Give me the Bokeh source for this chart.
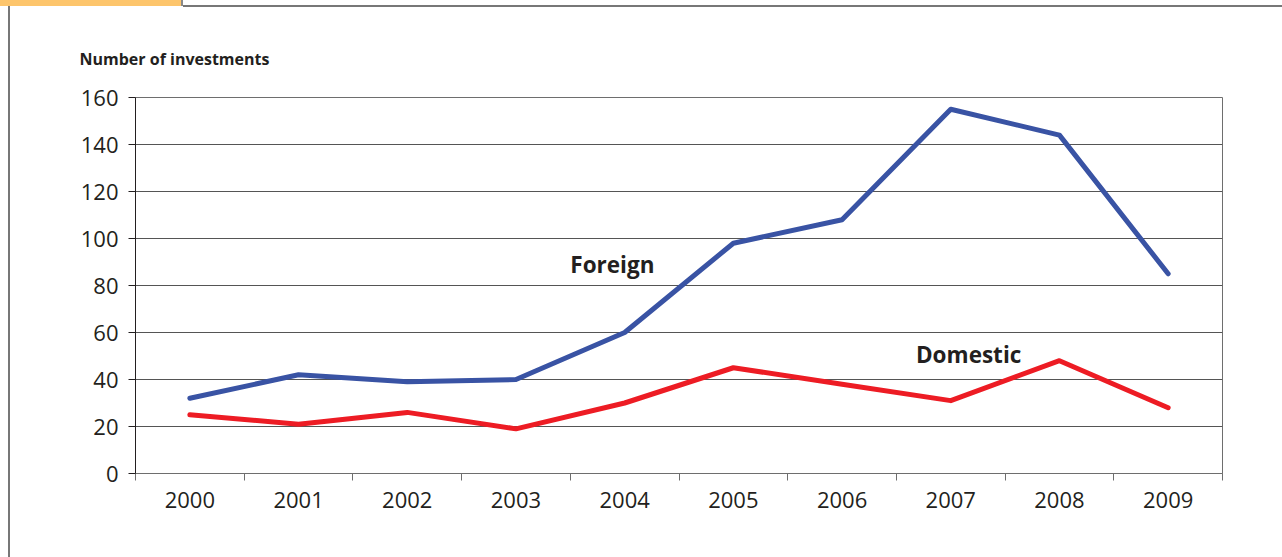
from bokeh.plotting import figure
from bokeh.models import Range1d, FixedTicker, Label
from bokeh.embed import file_html
from bokeh.resources import INLINE

# Number of investments per year
years = ["2000", "2001", "2002", "2003", "2004", "2005", "2006", "2007", "2008", "2009"]
foreign = [32, 42, 39, 40, 60, 98, 108, 155, 144, 85]
domestic = [25, 21, 26, 19, 30, 45, 38, 31, 48, 28]
y_ticks = [0, 20, 40, 60, 80, 100, 120, 140, 160]

FONT = "Open Sans"
BLUE = "#3953a4"
RED = "#ed1c24"
INK = "#231f20"

xs = list(range(len(years)))

p = figure(width=1282, height=557, output_backend="svg", toolbar_location=None,
           x_range=Range1d(-0.5, len(years) - 0.5), y_range=Range1d(0, 160),
           min_border_left=135, min_border_right=60, min_border_top=97, min_border_bottom=84)
p.background_fill_color = "white"
p.border_fill_color = None
p.outline_line_color = "#6e6e6e"
p.outline_line_width = 1

# page frame behind the canvas: orange tab, top rule, left rule
p.styles = {
    "background": (
        "linear-gradient(#8a8a8a,#8a8a8a) 181px 0px / 2px 6px no-repeat, "
        "linear-gradient(#fdc56c,#fdc56c) 0px 0px / 181px 6px no-repeat, "
        "linear-gradient(#777777,#777777) 183px 5px / 1100px 2px no-repeat, "
        "linear-gradient(#777777,#777777) 8px 5px / 2px 552px no-repeat, "
        "white"
    )
}

# unit caption above the value axis
p.title.text = "Number of investments"
p.title.align = "left"
p.title.offset = -56
p.title.standoff = 56
p.title.text_font = FONT
p.title.text_font_style = "bold"
p.title.text_font_size = "16px"
p.title.text_color = INK

# x axis: labels under each year, ticks on the boundaries between years
p.xaxis.ticker = FixedTicker(ticks=xs, minor_ticks=[i - 0.5 for i in range(len(years) + 1)])
p.xaxis.major_label_overrides = {i: y for i, y in enumerate(years)}
p.xaxis.major_tick_out = 0
p.xaxis.major_tick_in = 0
p.xaxis.minor_tick_out = 7
p.xaxis.minor_tick_in = 0
p.xaxis.minor_tick_line_color = "#6e6e6e"
p.xaxis.axis_line_color = "#6e6e6e"
p.xaxis.major_label_standoff = 11
p.xaxis.major_label_text_font = FONT
p.xaxis.major_label_text_font_size = "22px"
p.xaxis.major_label_text_color = INK

# y axis
p.yaxis.ticker = FixedTicker(ticks=y_ticks)
p.yaxis.major_tick_out = 7
p.yaxis.major_tick_in = 0
p.yaxis.minor_tick_line_color = None
p.yaxis.axis_line_color = INK
p.yaxis.major_tick_line_color = INK
p.yaxis.major_label_standoff = 10
p.yaxis.major_label_text_font = FONT
p.yaxis.major_label_text_font_size = "22px"
p.yaxis.major_label_text_color = INK

p.xgrid.grid_line_color = None
p.ygrid.grid_line_color = "#555555"
p.ygrid.grid_line_width = 1

p.line(xs, foreign, line_color=BLUE, line_width=5, line_cap="round", line_join="round")
p.line(xs, domestic, line_color=RED, line_width=5, line_cap="round", line_join="round")

p.add_layout(Label(x=3.5, y=89, text="Foreign", text_font=FONT, text_font_style="bold",
                   text_font_size="22.5px", text_color=INK, text_baseline="middle"))
p.add_layout(Label(x=6.68, y=50.5, text="Domestic", text_font=FONT, text_font_style="bold",
                   text_font_size="22.5px", text_color=INK, text_baseline="middle"))

open("out.html", "w").write(file_html(p, INLINE))
